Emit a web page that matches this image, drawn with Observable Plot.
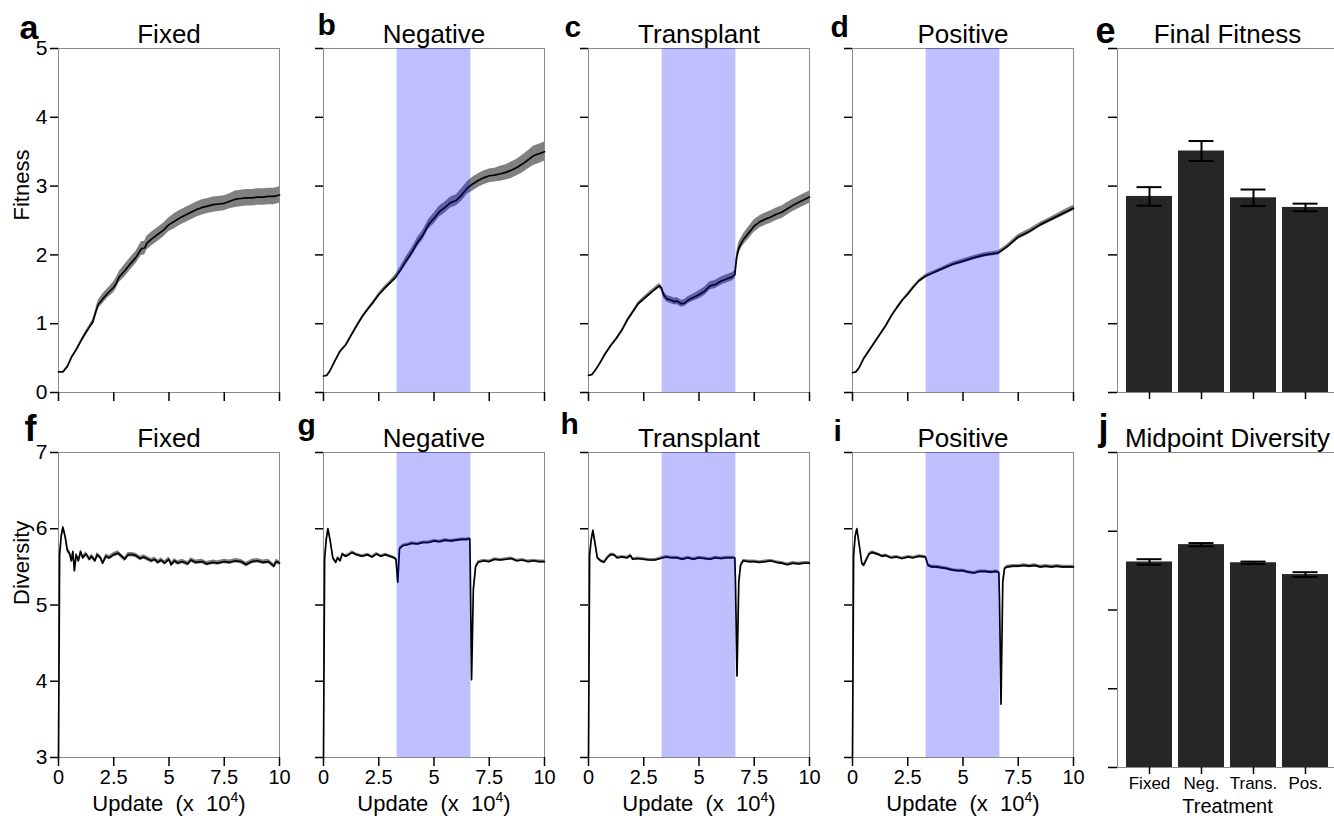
<!DOCTYPE html>
<html><head><meta charset="utf-8">
<script src="https://cdn.jsdelivr.net/npm/d3@7"></script>
<script src="https://cdn.jsdelivr.net/npm/@observablehq/plot@0.6"></script>
<style>
html,body{margin:0;padding:0;background:#fff;overflow:hidden;}
#fig{position:relative;width:1334px;height:816px;overflow:hidden;background:#fff;}
#fig svg{position:absolute;max-width:none;overflow:visible;}
</style></head><body><div id="fig"></div>
<script>
// ---------------- DATA ----------------
const panelTitles = ["Fixed", "Negative", "Transplant", "Positive"];
const topLetters = ["a", "b", "c", "d", "e"];
const bottomLetters = ["f", "g", "h", "i", "j"];
const xTicks = [0, 2.5, 5, 7.5, 10];
const fitnessTicks = [0, 1, 2, 3, 4, 5];
const diversityTicks = [3, 4, 5, 6, 7];
const shiftWindow = [3.33, 6.67];           // update (x 10^4) of environment shift
const treatments = ["Fixed", "Neg.", "Trans.", "Pos."];
const finalFitness = [2.85, 3.51, 2.83, 2.69];
const finalFitnessErr = [0.135, 0.145, 0.12, 0.055];
const midDiversity = [5.61, 5.83, 5.60, 5.45];
const midDiversityErr = [0.035, 0.02, 0.015, 0.03];

// [update (x10^4), mean, half-width of band]
const fitnessFixed = [[0,0.30,0],[0.2,0.30,0],[0.4,0.38,0.005],[0.6,0.52,0.01],[0.8,0.62,0.015],[1.0,0.74,0.02],[1.2,0.85,0.025],[1.4,0.95,0.03],[1.55,1.02,0.04],[1.7,1.18,0.05],[1.8,1.28,0.06],[2.0,1.36,0.07],[2.25,1.45,0.07],[2.5,1.53,0.08],[2.6,1.58,0.08],[2.75,1.68,0.08],[3.0,1.77,0.09],[3.25,1.87,0.09],[3.5,1.96,0.09],[3.75,2.09,0.1],[3.9,2.10,0.1],[4.0,2.17,0.1],[4.25,2.24,0.1],[4.5,2.30,0.1],[4.75,2.36,0.1],[5.0,2.44,0.1],[5.25,2.49,0.11],[5.5,2.54,0.11],[5.75,2.58,0.11],[6.0,2.62,0.11],[6.25,2.66,0.11],[6.5,2.69,0.11],[6.75,2.71,0.11],[7.0,2.73,0.11],[7.25,2.74,0.11],[7.5,2.75,0.11],[7.75,2.78,0.11],[8.0,2.81,0.12],[8.25,2.82,0.12],[8.5,2.83,0.12],[8.75,2.83,0.12],[9.0,2.84,0.12],[9.25,2.84,0.12],[9.5,2.85,0.12],[9.75,2.85,0.12],[10,2.87,0.12]];
const fitnessNegative = [[0,0.24,0],[0.15,0.25,0],[0.3,0.32,0.005],[0.5,0.45,0.01],[0.75,0.60,0.01],[1.0,0.69,0.01],[1.25,0.83,0.015],[1.5,0.97,0.015],[1.75,1.10,0.02],[2.0,1.21,0.02],[2.25,1.31,0.025],[2.5,1.42,0.025],[2.75,1.51,0.03],[3.0,1.59,0.03],[3.25,1.67,0.04],[3.5,1.79,0.05],[3.75,1.92,0.06],[4.0,2.04,0.06],[4.25,2.18,0.07],[4.5,2.29,0.07],[4.75,2.44,0.07],[5.0,2.53,0.08],[5.25,2.63,0.08],[5.5,2.69,0.08],[5.75,2.76,0.08],[6.0,2.79,0.08],[6.25,2.87,0.09],[6.5,2.97,0.09],[6.75,3.03,0.1],[7.0,3.08,0.1],[7.25,3.12,0.1],[7.5,3.15,0.1],[7.75,3.16,0.1],[8.0,3.18,0.11],[8.25,3.20,0.11],[8.5,3.23,0.12],[8.75,3.27,0.12],[9.0,3.32,0.13],[9.25,3.38,0.13],[9.5,3.44,0.14],[9.75,3.47,0.14],[10,3.50,0.14]];
const fitnessTransplant = [[0,0.25,0],[0.15,0.26,0],[0.3,0.32,0.005],[0.5,0.42,0.01],[0.75,0.56,0.01],[1.0,0.68,0.01],[1.25,0.78,0.015],[1.5,0.90,0.015],[1.75,1.05,0.02],[2.0,1.17,0.02],[2.25,1.29,0.025],[2.5,1.36,0.03],[2.75,1.43,0.03],[3.0,1.50,0.03],[3.2,1.55,0.035],[3.3,1.52,0.04],[3.4,1.42,0.05],[3.55,1.36,0.05],[3.75,1.34,0.05],[3.9,1.32,0.05],[4.0,1.33,0.05],[4.2,1.29,0.05],[4.35,1.30,0.05],[4.5,1.34,0.05],[4.75,1.38,0.05],[5.0,1.42,0.06],[5.25,1.47,0.06],[5.5,1.55,0.06],[5.75,1.57,0.06],[6.0,1.62,0.06],[6.25,1.65,0.06],[6.5,1.68,0.06],[6.62,1.71,0.06],[6.7,1.95,0.07],[6.8,2.10,0.08],[7.0,2.22,0.08],[7.25,2.32,0.09],[7.5,2.42,0.09],[7.75,2.48,0.09],[8.0,2.52,0.09],[8.25,2.55,0.09],[8.5,2.59,0.09],[8.75,2.62,0.09],[9.0,2.67,0.09],[9.25,2.72,0.09],[9.5,2.76,0.09],[9.75,2.80,0.09],[10,2.84,0.09]];
const fitnessPositive = [[0,0.29,0],[0.15,0.30,0],[0.3,0.36,0.005],[0.5,0.49,0.01],[0.75,0.61,0.01],[1.0,0.73,0.01],[1.25,0.85,0.01],[1.5,0.97,0.01],[1.75,1.11,0.015],[2.0,1.23,0.015],[2.25,1.34,0.015],[2.5,1.43,0.02],[2.75,1.53,0.02],[3.0,1.62,0.02],[3.3,1.69,0.025],[3.5,1.72,0.025],[4.0,1.79,0.025],[4.5,1.86,0.03],[5.0,1.91,0.03],[5.5,1.96,0.03],[6.0,2.00,0.03],[6.6,2.03,0.03],[7.0,2.12,0.03],[7.5,2.26,0.035],[8.0,2.34,0.035],[8.5,2.44,0.035],[9.0,2.52,0.035],[9.5,2.60,0.04],[10,2.68,0.04]];

const diversityFixed = [[0,3.0,0],[0.05,5.65,0.02],[0.12,5.9,0.02],[0.2,6.02,0.03],[0.3,5.9,0.03],[0.4,5.72,0.03],[0.5,5.68,0.03],[0.58,5.58,0.03],[0.65,5.7,0.03],[0.72,5.45,0.04],[0.8,5.66,0.03],[0.9,5.58,0.03],[1.0,5.7,0.03],[1.1,5.62,0.03],[1.25,5.67,0.03],[1.4,5.6,0.03],[1.5,5.64,0.03],[1.65,5.58,0.03],[1.75,5.66,0.03],[1.9,5.62,0.03],[2.0,5.55,0.03],[2.15,5.64,0.03],[2.3,5.62,0.03],[2.5,5.66,0.03],[2.7,5.68,0.03],[2.85,5.64,0.03],[3.0,5.6,0.03],[3.15,5.66,0.03],[3.35,5.66,0.03],[3.5,5.65,0.03],[3.7,5.61,0.03],[3.85,5.63,0.03],[4.0,5.61,0.03],[4.2,5.58,0.03],[4.35,5.6,0.03],[4.5,5.56,0.03],[4.65,5.59,0.03],[4.8,5.55,0.03],[5.0,5.6,0.03],[5.1,5.53,0.03],[5.25,5.58,0.03],[5.4,5.55,0.03],[5.6,5.57,0.03],[5.85,5.54,0.03],[6.0,5.59,0.03],[6.2,5.56,0.03],[6.5,5.57,0.03],[6.7,5.54,0.03],[7.0,5.56,0.03],[7.2,5.55,0.03],[7.5,5.57,0.03],[7.75,5.56,0.03],[8.0,5.58,0.03],[8.25,5.57,0.03],[8.5,5.53,0.03],[8.75,5.57,0.03],[9.0,5.58,0.03],[9.25,5.56,0.03],[9.5,5.57,0.03],[9.75,5.51,0.03],[9.85,5.57,0.03],[10,5.55,0.03]];
const diversityNegative = [[0,3.0,0],[0.05,5.6,0.02],[0.12,5.85,0.02],[0.2,6.0,0.02],[0.3,5.85,0.02],[0.42,5.62,0.02],[0.55,5.56,0.02],[0.65,5.62,0.02],[0.75,5.58,0.02],[0.85,5.67,0.02],[1.0,5.64,0.02],[1.15,5.66,0.02],[1.3,5.69,0.02],[1.5,5.66,0.02],[1.75,5.64,0.02],[2.0,5.66,0.02],[2.2,5.63,0.02],[2.4,5.67,0.02],[2.6,5.64,0.02],[2.8,5.66,0.02],[3.0,5.64,0.02],[3.2,5.62,0.02],[3.28,5.6,0.02],[3.36,5.3,0.03],[3.44,5.74,0.02],[3.6,5.78,0.02],[3.8,5.79,0.02],[4.0,5.81,0.02],[4.25,5.8,0.02],[4.5,5.82,0.02],[4.75,5.82,0.02],[5.0,5.84,0.02],[5.25,5.83,0.02],[5.5,5.85,0.02],[5.75,5.84,0.02],[6.0,5.85,0.02],[6.25,5.86,0.02],[6.5,5.86,0.02],[6.62,5.87,0.02],[6.64,5.5,0.02],[6.7,4.02,0.03],[6.78,5.2,0.03],[6.88,5.5,0.02],[7.0,5.56,0.02],[7.25,5.58,0.02],[7.5,5.57,0.02],[7.75,5.6,0.02],[8.0,5.59,0.02],[8.25,5.6,0.02],[8.5,5.61,0.02],[8.75,5.58,0.02],[9.0,5.59,0.02],[9.25,5.57,0.02],[9.5,5.58,0.02],[9.75,5.57,0.02],[10,5.57,0.02]];
const diversityTransplant = [[0,3.0,0],[0.05,5.65,0.02],[0.12,5.85,0.02],[0.2,5.98,0.02],[0.3,5.8,0.02],[0.4,5.62,0.02],[0.55,5.58,0.02],[0.7,5.56,0.02],[0.85,5.62,0.02],[1.0,5.66,0.02],[1.15,5.66,0.02],[1.3,5.62,0.02],[1.5,5.63,0.02],[1.75,5.62,0.02],[1.9,5.65,0.02],[2.0,5.6,0.02],[2.25,5.61,0.02],[2.5,5.6,0.02],[2.75,5.59,0.02],[3.0,5.59,0.02],[3.25,5.61,0.02],[3.5,5.63,0.02],[3.75,5.62,0.02],[4.0,5.62,0.02],[4.25,5.6,0.02],[4.5,5.62,0.02],[4.75,5.6,0.02],[5.0,5.62,0.02],[5.25,5.61,0.02],[5.5,5.6,0.02],[5.75,5.62,0.02],[6.0,5.61,0.02],[6.25,5.62,0.02],[6.5,5.62,0.02],[6.62,5.62,0.02],[6.65,5.3,0.02],[6.72,4.07,0.03],[6.8,5.3,0.03],[6.88,5.52,0.02],[7.0,5.58,0.02],[7.25,5.57,0.02],[7.5,5.57,0.02],[7.75,5.56,0.02],[8.0,5.57,0.02],[8.25,5.58,0.02],[8.5,5.56,0.02],[8.75,5.55,0.02],[9.0,5.53,0.02],[9.25,5.55,0.02],[9.5,5.54,0.02],[9.75,5.55,0.02],[10,5.55,0.02]];
const diversityPositive = [[0,3.0,0],[0.05,5.65,0.02],[0.12,5.9,0.02],[0.2,6.0,0.02],[0.3,5.8,0.02],[0.42,5.55,0.02],[0.5,5.52,0.02],[0.6,5.58,0.02],[0.75,5.67,0.02],[0.9,5.69,0.02],[1.0,5.68,0.02],[1.2,5.66,0.02],[1.35,5.64,0.02],[1.5,5.65,0.02],[1.75,5.62,0.02],[2.0,5.63,0.02],[2.25,5.61,0.02],[2.5,5.63,0.02],[2.75,5.62,0.02],[3.0,5.64,0.02],[3.3,5.63,0.02],[3.42,5.52,0.02],[3.6,5.5,0.02],[3.8,5.5,0.02],[4.0,5.49,0.02],[4.25,5.48,0.02],[4.5,5.46,0.02],[4.75,5.45,0.02],[5.0,5.45,0.02],[5.25,5.43,0.02],[5.5,5.42,0.02],[5.75,5.44,0.02],[6.0,5.44,0.02],[6.25,5.43,0.02],[6.5,5.44,0.02],[6.62,5.43,0.02],[6.65,5.1,0.02],[6.72,3.70,0.03],[6.8,5.3,0.03],[6.88,5.48,0.02],[7.0,5.5,0.02],[7.25,5.51,0.02],[7.5,5.51,0.02],[7.75,5.52,0.02],[8.0,5.51,0.02],[8.25,5.52,0.02],[8.5,5.5,0.02],[8.75,5.51,0.02],[9.0,5.5,0.02],[9.25,5.51,0.02],[9.5,5.5,0.02],[9.75,5.5,0.02],[10,5.5,0.02]];

const fitnessSeries = [fitnessFixed, fitnessNegative, fitnessTransplant, fitnessPositive];
const diversitySeries = [diversityFixed, diversityNegative, diversityTransplant, diversityPositive];
const shifted = [false, true, true, true];
const xAxisTitle = "Update\u00a0 (x\u00a0 10\u2074)";

// ---------------- LAYOUT ----------------
const FONT = '"Liberation Sans", Arial, Helvetica, sans-serif';
const fig = document.getElementById("fig");
const M = {l: 70, r: 20, t: 60, b: 62};
const colLeft = [58, 323, 588, 852, 1117];
const panelW = 221;
const topRow = {top: 48, h: 344};
const botRow = {top: 452, h: 305};
const barBotH = 315;
const topLetterPos = [[-39, -10, 34], [-6, -14, 30], [-24, -12, 30], [-22, -12, 30], [-22, -6, 36]];
const botLetterPos = [[-34, -12, 36], [-26, -18, 30], [-28, -19, 30], [-19, -12, 30], [-19, -13, 36]];

function mount(plot, left, top) {
  plot.style.left = (left - M.l) + "px";
  plot.style.top = (top - M.t) + "px";
  fig.appendChild(plot);
}
function letterMark(letter, pos) {
  return Plot.text([letter], {frameAnchor: "top-left", dx: pos[0], dy: pos[1], textAnchor: "start", lineAnchor: "bottom", fontWeight: "bold", fontSize: pos[2], text: d => d});
}
function titleMark(t) {
  return Plot.text([t], {frameAnchor: "top", dy: -6, lineAnchor: "bottom", fontSize: 26, text: d => d});
}
function basePlot(w, h, x, y, marks) {
  return Plot.plot({
    width: M.l + w + M.r, height: M.t + h + M.b,
    marginLeft: M.l, marginRight: M.r, marginTop: M.t, marginBottom: M.b,
    x, y, marks,
    style: {background: "transparent", fontFamily: FONT, overflow: "visible", color: "#000"}
  });
}

function linePanel(i, row) {
  const isTop = row === 0;
  const series = isTop ? fitnessSeries[i] : diversitySeries[i];
  const yDomain = isTop ? [0, 5] : [3, 7];
  const yTicks = isTop ? fitnessTicks : diversityTicks;
  const marks = [
    Plot.frame({stroke: "#8a8a8a", strokeWidth: 1}),
    Plot.areaY(series, {x: d => d[0], y1: d => d[1] - d[2], y2: d => d[1] + d[2], fill: "#808080"}),
    Plot.lineY(series, {x: d => d[0], y: d => d[1], stroke: "#000", strokeWidth: 1.7})
  ];
  if (shifted[i]) marks.push(Plot.rect([shiftWindow], {x1: d => d[0], x2: d => d[1], fill: "#0000ff", fillOpacity: 0.25}));
  marks.push(Plot.axisY({ticks: yTicks, tickSize: 8, tickPadding: 3, fontSize: 21, strokeWidth: 1.5,
    tickFormat: i === 0 ? d => String(d) : () => "", label: null}));
  marks.push(Plot.axisX({ticks: xTicks, tickSize: 9, tickPadding: 3, fontSize: 20, strokeWidth: 1.5,
    tickFormat: isTop ? () => "" : d => String(d), label: null}));
  marks.push(titleMark(panelTitles[i]));
  marks.push(letterMark(isTop ? topLetters[i] : bottomLetters[i], isTop ? topLetterPos[i] : botLetterPos[i]));
  if (i === 0) marks.push(Plot.text([isTop ? "Fitness" : "Diversity"], {frameAnchor: "left", dx: -30, rotate: -90, lineAnchor: "bottom", fontSize: 22, text: d => d}));
  if (!isTop) marks.push(Plot.text([xAxisTitle], {frameAnchor: "bottom", dy: 53, lineAnchor: "bottom", fontSize: 22, text: d => d}));
  const R = isTop ? topRow : botRow;
  const p = basePlot(panelW, R.h, {domain: [0, 10]}, {domain: yDomain}, marks);
  mount(p, colLeft[i], R.top);
}

function barPanel(row) {
  const isTop = row === 0;
  const vals = isTop ? finalFitness : midDiversity;
  const errs = isTop ? finalFitnessErr : midDiversityErr;
  const yDomain = isTop ? [0, 5] : [3, 7];
  const table = treatments.map((t, k) => ({t, base: yDomain[0], v: vals[k], lo: vals[k] - errs[k], hi: vals[k] + errs[k]}));
  const marks = [
    Plot.frame({stroke: "#8a8a8a", strokeWidth: 1}),
    Plot.barY(table, {x: "t", y1: "base", y2: "v", fill: "#262626"}),
    Plot.ruleX(table, {x: "t", y1: "lo", y2: "hi", stroke: "#000", strokeWidth: 2}),
    Plot.tickY(table, {x: "t", y: "lo", stroke: "#000", strokeWidth: 2, insetLeft: 10.5, insetRight: 10.5}),
    Plot.tickY(table, {x: "t", y: "hi", stroke: "#000", strokeWidth: 2, insetLeft: 10.5, insetRight: 10.5}),
    Plot.axisY({ticks: isTop ? fitnessTicks : diversityTicks, tickSize: 9, tickFormat: () => "", strokeWidth: 1.5, label: null}),
    Plot.axisX({tickSize: 7, tickPadding: 2, fontSize: 17, strokeWidth: 1.5, tickFormat: isTop ? () => "" : d => d, label: null}),
    titleMark(isTop ? "Final Fitness" : "Midpoint Diversity"),
    letterMark(isTop ? topLetters[4] : bottomLetters[4], isTop ? topLetterPos[4] : botLetterPos[4])
  ];
  if (!isTop) marks.push(Plot.text(["Treatment"], {frameAnchor: "bottom", dy: 45, lineAnchor: "bottom", fontSize: 20, text: d => d}));
  const h = isTop ? topRow.h : barBotH;
  const p = basePlot(220, h, {type: "band", domain: treatments, paddingInner: 0.107, paddingOuter: 0.145}, {domain: yDomain}, marks);
  mount(p, colLeft[4], isTop ? topRow.top : botRow.top);
}

for (let i = 0; i < 4; i++) { linePanel(i, 0); linePanel(i, 1); }
barPanel(0); barPanel(1);

// render the exponent of the x-axis title as a raised superscript
fig.querySelectorAll("text").forEach(t => {
  if (t.textContent === xAxisTitle) {
    const base = "Update\u00a0 (x\u00a0 10";
    while (t.firstChild) t.removeChild(t.firstChild);
    const ns = "http://www.w3.org/2000/svg";
    t.appendChild(document.createTextNode(base));
    const sup = document.createElementNS(ns, "tspan");
    sup.setAttribute("dy", "-9"); sup.setAttribute("font-size", "14"); sup.textContent = "4";
    const close = document.createElementNS(ns, "tspan");
    close.setAttribute("dy", "9"); close.textContent = ")";
    t.appendChild(sup); t.appendChild(close);
  }
});
</script></body></html>
